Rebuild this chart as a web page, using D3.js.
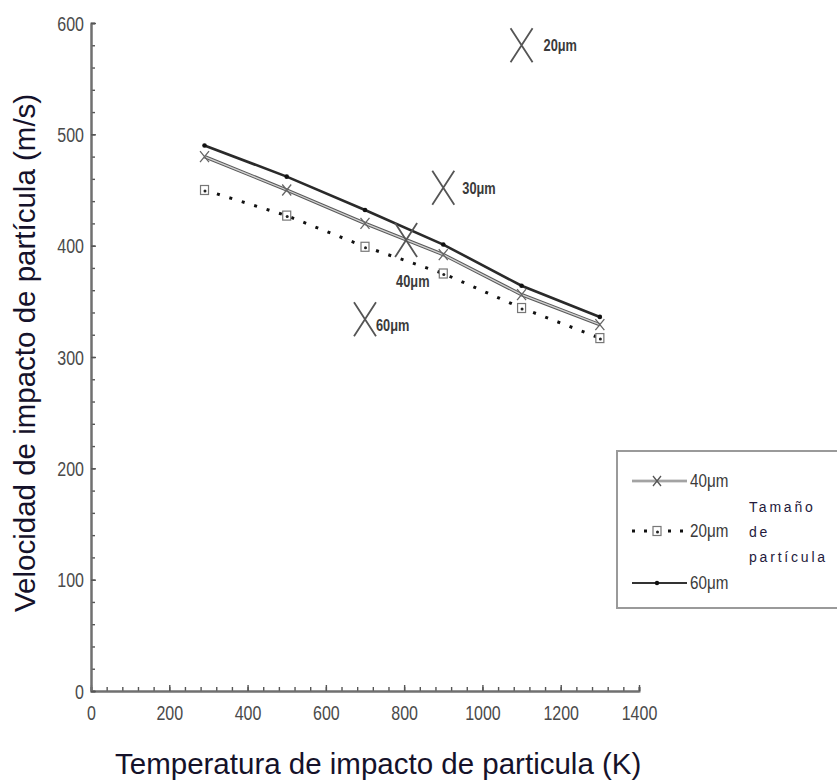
<!DOCTYPE html>
<html><head><meta charset="utf-8">
<script src="https://cdn.jsdelivr.net/npm/d3@7"></script>
<style>body{margin:0;background:#fff}svg{display:block}</style></head>
<body>
<svg id="c" width="837" height="780"></svg>
<script>
// ---- data ----
const temps = [290, 500, 700, 900, 1100, 1300];
const v40 = [480, 450, 420, 392, 356, 329];
const v20 = [450, 427, 399, 375, 344, 317];
const v60 = [490, 462, 432, 401, 364, 336];
const xTickValues = [0, 200, 400, 600, 800, 1000, 1200, 1400];
const yTickValues = [0, 100, 200, 300, 400, 500, 600];
const annotX = [1100, 900, 805, 700];
const annotY = [580, 452, 405, 334];
const annotLabels = ["20μm", "30μm", "40μm", "60μm"];
const legendLabels = ["40μm", "20μm", "60μm"];
const legendTitle = ["Tamaño", "de", "partícula"];
const xTitle = "Temperatura de impacto de particula (K)";
const yTitle = "Velocidad de impacto de partícula (m/s)";

// ---- setup ----
const svg = d3.select("#c");
const x = d3.scaleLinear().domain([0, 1400]).range([91, 639]);
const y = d3.scaleLinear().domain([0, 600]).range([691, 23]);
const SX = 0.8; // horizontal condense for narrow-looking labels
const FONT = "Liberation Sans, Arial, sans-serif";

// axes
const axisCol = "#707070";
const gx = svg.append("g").attr("transform", `translate(0,${y(0)})`);
gx.call(d3.axisBottom(x).tickValues(d3.range(0, 1401, 40)).tickSize(-4).tickFormat(""));
const gxMaj = svg.append("g").attr("transform", `translate(0,${y(0)})`)
  .call(d3.axisBottom(x).tickValues(xTickValues).tickSize(-6).tickSizeOuter(0).tickFormat(d3.format("d")));
const gy = svg.append("g").attr("transform", `translate(${x(0)},0)`);
gy.call(d3.axisLeft(y).tickValues(d3.range(0, 601, 20)).tickSize(-4).tickFormat(""));
const gyMaj = svg.append("g").attr("transform", `translate(${x(0)},0)`)
  .call(d3.axisLeft(y).tickValues(yTickValues).tickSize(-5).tickSizeOuter(0).tickFormat(d3.format("d")));

[gx, gxMaj, gy, gyMaj].forEach(g => {
  g.select(".domain").attr("stroke", axisCol).attr("stroke-width", 2);
  g.selectAll(".tick line").attr("stroke", "#555").attr("stroke-width", 1.4);
});
gxMaj.selectAll(".tick text")
  .attr("font-family", FONT).attr("font-size", 20)
  .attr("fill", "#4a4a4a").attr("dy", 0).attr("y", 0)
  .attr("transform", `translate(0,29) scale(${SX},1)`);
gyMaj.selectAll(".tick text")
  .attr("font-family", FONT).attr("font-size", 20)
  .attr("fill", "#4a4a4a").attr("dy", "0.36em").attr("x", 0)
  .attr("text-anchor", "end")
  .attr("transform", `translate(-7,0) scale(${SX},1)`);

// ---- series ----
const line = d3.line().x((d, i) => x(temps[i])).y(d => y(d));

// 20 µm dotted
svg.append("path").datum(v20).attr("d", line)
  .attr("fill", "none").attr("stroke", "#111").attr("stroke-width", 3)
  .attr("stroke-dasharray", "3,10");
// 40 µm hollow-looking line
svg.append("path").datum(v40).attr("d", line)
  .attr("fill", "none").attr("stroke", "#5a5a5a").attr("stroke-width", 3.4);
svg.append("path").datum(v40).attr("d", line)
  .attr("fill", "none").attr("stroke", "#d2d2d2").attr("stroke-width", 1.3);
// 60 µm solid dark line
svg.append("path").datum(v60).attr("d", line)
  .attr("fill", "none").attr("stroke", "#2a2a2a").attr("stroke-width", 2.6);

function xMark(g, cx, cy, w, h, col, sw) {
  g.append("path")
    .attr("d", `M${cx - w / 2},${cy - h / 2}L${cx + w / 2},${cy + h / 2}M${cx + w / 2},${cy - h / 2}L${cx - w / 2},${cy + h / 2}`)
    .attr("stroke", col).attr("stroke-width", sw).attr("fill", "none");
}
function sqMark(g, cx, cy) {
  g.append("rect").attr("x", cx - 4).attr("y", cy - 4.5).attr("width", 8).attr("height", 9)
    .attr("fill", "#fff").attr("stroke", "#777").attr("stroke-width", 1.2);
  g.append("circle").attr("cx", cx + 0.5).attr("cy", cy + 1).attr("r", 1.5).attr("fill", "#222");
}
const gm = svg.append("g");
v40.forEach((v, i) => xMark(gm, x(temps[i]), y(v), 9, 11, "#666", 1.3));
v20.forEach((v, i) => sqMark(gm, x(temps[i]), y(v)));
v60.forEach((v, i) => gm.append("circle").attr("cx", x(temps[i])).attr("cy", y(v)).attr("r", 2.3).attr("fill", "#111"));

// ---- annotations (big X + size label) ----
const labOff = [[22, 6], [19, 6], [-10, 47], [11, 12]];
const ga = svg.append("g");
annotX.forEach((ax, i) => {
  const cx = x(ax), cy = y(annotY[i]);
  xMark(ga, cx, cy, 22, 34, "#555", 1.8);
  ga.append("text").attr("x", 0).attr("y", 0)
    .attr("transform", `translate(${cx + labOff[i][0]},${cy + labOff[i][1]}) scale(${SX},1)`)
    .attr("font-family", FONT).attr("font-size", 16)
    .attr("font-weight", "bold").attr("fill", "#3a3a3a")
    .text(annotLabels[i]);
});

// ---- legend ----
const lg = svg.append("g");
lg.append("rect").attr("x", 617).attr("y", 451).attr("width", 240).attr("height", 157)
  .attr("fill", "#fff").attr("stroke", "#9a9a9a").attr("stroke-width", 2);
const legY = [481, 531, 583];
// 40
lg.append("line").attr("x1", 632).attr("x2", 687).attr("y1", legY[0]).attr("y2", legY[0])
  .attr("stroke", "#777").attr("stroke-width", 2.6);
lg.append("line").attr("x1", 632).attr("x2", 687).attr("y1", legY[0]).attr("y2", legY[0])
  .attr("stroke", "#d0d0d0").attr("stroke-width", 1);
xMark(lg, 657, legY[0], 8, 10, "#555", 1.3);
// 20
lg.append("line").attr("x1", 632).attr("x2", 687).attr("y1", legY[1]).attr("y2", legY[1])
  .attr("stroke", "#111").attr("stroke-width", 3).attr("stroke-dasharray", "3,9");
sqMark(lg, 657, legY[1]);
// 60
lg.append("line").attr("x1", 632).attr("x2", 687).attr("y1", legY[2]).attr("y2", legY[2])
  .attr("stroke", "#333").attr("stroke-width", 2);
lg.append("circle").attr("cx", 657).attr("cy", legY[2]).attr("r", 2.2).attr("fill", "#111");
legendLabels.forEach((t, i) => {
  lg.append("text").attr("x", 0).attr("y", 0)
    .attr("transform", `translate(690,${legY[i] + 6}) scale(${SX},1)`)
    .attr("font-family", FONT).attr("font-size", 19)
    .attr("fill", "#3a3a3a").text(t);
});
const titY = [512, 537, 562];
legendTitle.forEach((t, i) => {
  lg.append("text").attr("x", 749).attr("y", titY[i])
    .attr("font-family", FONT).attr("font-size", 14)
    .attr("letter-spacing", 2.8).attr("fill", "#241a3c").text(t);
});

// ---- axis titles ----
svg.append("text").attr("x", 115).attr("y", 774)
  .attr("font-family", FONT).attr("font-size", 29.5)
  .attr("fill", "#15122a").text(xTitle);
svg.append("text").attr("transform", "translate(35,612) rotate(-90)")
  .attr("font-family", FONT).attr("font-size", 29.5)
  .attr("fill", "#15122a").text(yTitle);
</script>
</body></html>
